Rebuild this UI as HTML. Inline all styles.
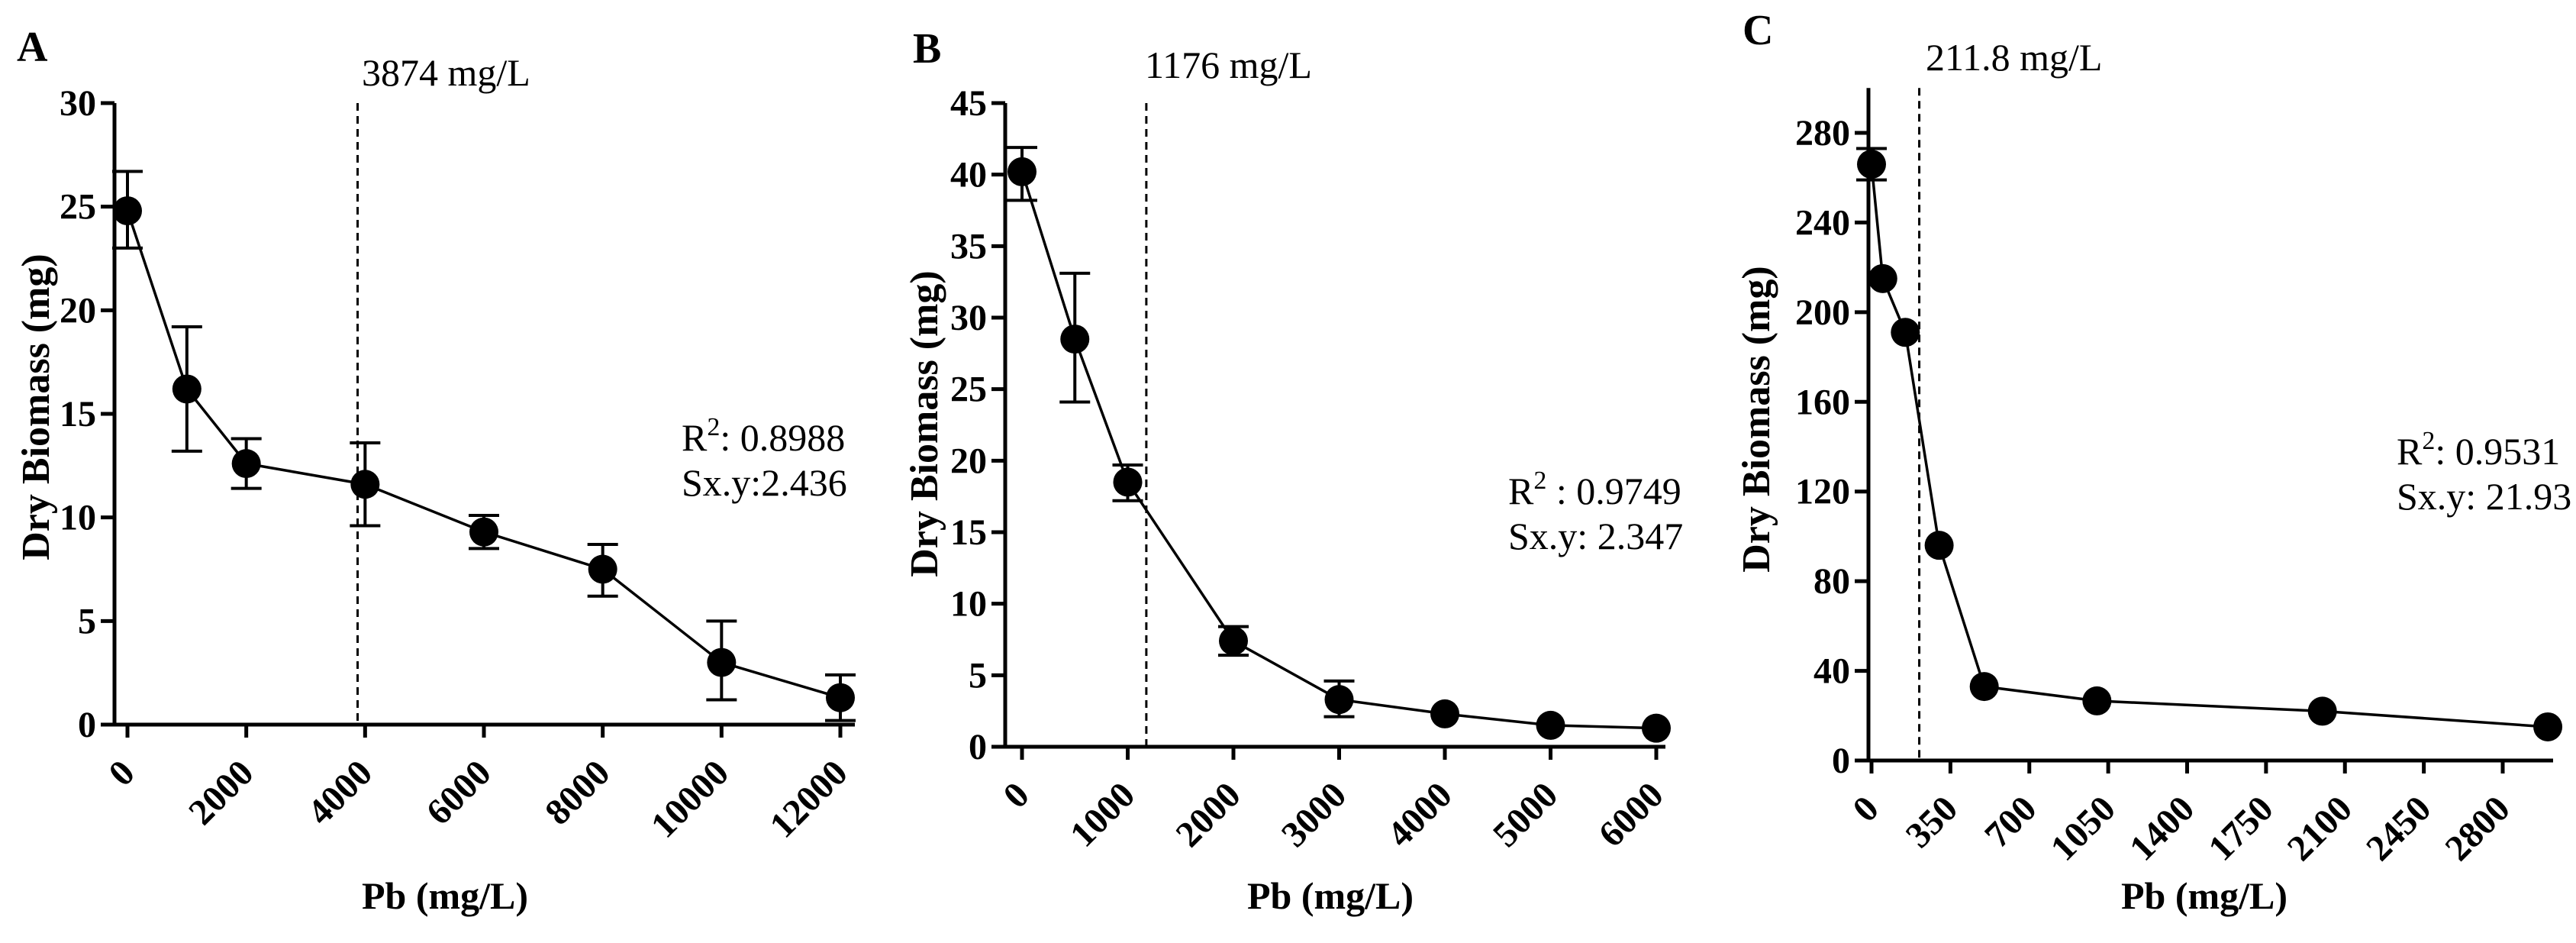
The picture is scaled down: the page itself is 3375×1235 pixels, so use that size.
<!DOCTYPE html>
<html><head><meta charset="utf-8"><style>
html,body{margin:0;padding:0;background:#fff}
svg text{font-family:"Liberation Serif","DejaVu Serif",serif;fill:#000}
</style></head><body>
<svg id="fig" width="3375" height="1230" viewBox="0 0 3375 1230" font-family="Liberation Serif, DejaVu Serif, serif" xmlns="http://www.w3.org/2000/svg"></svg>
<script>
// Panel A data
const aDose = [0,1000,2000,4000,6000,8000,10000,12000];
const aMean = [24.8,16.2,12.6,11.6,9.3,7.5,3.0,1.3];
const aHi   = [26.7,19.2,13.8,13.6,10.1,8.7,5.0,2.4];
const aLo   = [23.0,13.2,11.4,9.6,8.5,6.2,1.2,0.2];
const aXTicks = [0,2000,4000,6000,8000,10000,12000];
const aYTicks = [0,5,10,15,20,25,30];
const aEC50 = 3874;
// Panel B data
const bDose = [0,500,1000,2000,3000,4000,5000,6000];
const bMean = [40.2,28.5,18.5,7.4,3.3,2.3,1.5,1.3];
const bHi   = [41.9,33.1,19.7,8.4,4.6,2.3,1.5,1.3];
const bLo   = [38.2,24.1,17.2,6.4,2.1,2.3,1.5,1.3];
const bXTicks = [0,1000,2000,3000,4000,5000,6000];
const bYTicks = [0,5,10,15,20,25,30,35,40,45];
const bEC50 = 1176;
// Panel C data
const cDose = [0,50,150,300,500,1000,2000,3000];
const cMean = [266,215,191,96,33,26.6,22,15];
const cHi   = [273,215,191,96,33,26.6,22,15];
const cLo   = [259,215,191,96,33,26.6,22,15];
const cXTicks = [0,350,700,1050,1400,1750,2100,2450,2800];
const cYTicks = [0,40,80,120,160,200,240,280];
const cEC50 = 211.8;

const NS='http://www.w3.org/2000/svg';
const svg=document.getElementById('fig');
function mk(tag,attrs,parent,text){const e=document.createElementNS(NS,tag);for(const k in attrs)e.setAttribute(k,attrs[k]);if(text!==undefined)e.textContent=text;(parent||svg).appendChild(e);return e;}

function panel(p){
  const g=mk('g',{});
  
  
  const xs=v=>p.x0+(v-p.xmin)*(p.x1-p.x0)/(p.xmax-p.xmin);
  const ys=v=>p.y0-(v)*(p.y0-p.y1)/(p.ymax);
  const L=mk('text',{x:p.letterX,y:p.letterY,'font-size':56,'font-weight':'bold'},g,p.letter);
  
  
  const ya=mk('line',{x1:p.ax,y1:ys(p.ytop),x2:p.ax,y2:p.y0+2.5,stroke:'#000','stroke-width':5},g);
  
  
  const xa=mk('line',{x1:p.ax-18,y1:p.y0,x2:p.xend,y2:p.y0,stroke:'#000','stroke-width':5},g);
  
  
  p.yTicks.forEach(t=>{
    const y=ys(t);
    if(t!==0){const tk=mk('line',{x1:p.ax-18,y1:y,x2:p.ax,y2:y,stroke:'#000','stroke-width':5},g);
    
    }
    const tl=mk('text',{x:p.ax-24,y:y+16,'font-size':48,'font-weight':'bold','text-anchor':'end'},g,String(t));
    
    
  });
  p.xTicks.forEach(t=>{
    const x=xs(t);
    const tk=mk('line',{x1:x,y1:p.y0,x2:x,y2:p.y0+17,stroke:'#000','stroke-width':5},g);
    
    
    const tl=mk('text',{x:x+12,y:p.y0+66,'font-size':48,'font-weight':'bold','text-anchor':'end',transform:`rotate(-45 ${x+12} ${p.y0+66})`},g,String(t));
    
    
  });
  const yt=mk('text',{x:p.ytX,y:p.ytY,'font-size':52,'font-weight':'bold','text-anchor':'middle',transform:`rotate(-90 ${p.ytX} ${p.ytY})`},g,'Dry Biomass (mg)');
  
  
  const xt=mk('text',{x:p.xtX,y:1190,'font-size':50,'font-weight':'bold','text-anchor':'middle'},g,'Pb (mg/L)');
  
  
  const ex=xs(p.ec50);
  const dl=mk('line',{x1:ex,y1:ys(p.ytop),x2:ex,y2:p.y0,stroke:'#000','stroke-width':3,'stroke-dasharray':'10 7'},g);
  
  
  const et=mk('text',{x:p.ecTX,y:p.ecTY,'font-size':50},g,p.ecLabel);
  
  
  const st=mk('text',{x:p.stX,y:p.stY,'font-size':50},g);
  
  
  mk('tspan',{},st,'R');
  mk('tspan',{dy:-20,'font-size':34},st,'2');
  mk('tspan',{dy:20},st,p.r2);
  const sx=mk('text',{x:p.stX,y:p.stY+59,'font-size':50},g,p.sxy);
  
  
  const pts=p.dose.map((d,i)=>xs(d)+','+ys(p.mean[i])).join(' ');
  const pl=mk('polyline',{points:pts,fill:'none',stroke:'#000','stroke-width':3.5},g);
  
  
  p.dose.forEach((d,i)=>{
    const x=xs(d);
    if(p.hi[i]!==p.lo[i]){
      const eb=mk('path',{d:`M${x-20},${ys(p.hi[i])}H${x+20}M${x},${ys(p.hi[i])}V${ys(p.lo[i])}M${x-20},${ys(p.lo[i])}H${x+20}`,stroke:'#000','stroke-width':4,fill:'none'},g);
      
      
    }
    const c=mk('circle',{cx:x,cy:ys(p.mean[i]),r:19,fill:'#000'},g);
    
    
  });
}

panel({id:'a',letter:'A',letterX:22,letterY:80,ax:150,x0:167,x1:1101,xmin:0,xmax:12000,xend:1120,y0:949,y1:135,ymax:30,ytop:30,
  xTicks:aXTicks,yTicks:aYTicks,dose:aDose,mean:aMean,hi:aHi,lo:aLo,ec50:aEC50,ecLabel:'3874 mg/L',ecTX:474,ecTY:112,
  ytX:64,ytY:533,xtX:583,stX:893,stY:590,r2:': 0.8988',sxy:'Sx.y:2.436'});
panel({id:'b',letter:'B',letterX:1196,letterY:82,ax:1317,x0:1339,x1:2170,xmin:0,xmax:6000,xend:2182,y0:978,y1:135,ymax:45,ytop:45,
  xTicks:bXTicks,yTicks:bYTicks,dose:bDose,mean:bMean,hi:bHi,lo:bLo,ec50:bEC50,ecLabel:'1176 mg/L',ecTX:1500,ecTY:102,
  ytX:1228,ytY:555,xtX:1743,stX:1976,stY:660,r2:' : 0.9749',sxy:'Sx.y: 2.347'});
panel({id:'c',letter:'C',letterX:2283,letterY:58,ax:2448,x0:2452,x1:3279,xmin:0,xmax:2800,xend:3345,y0:996,y1:174,ymax:280,ytop:300,
  xTicks:cXTicks,yTicks:cYTicks,dose:cDose,mean:cMean,hi:cHi,lo:cLo,ec50:cEC50,ecLabel:'211.8 mg/L',ecTX:2523,ecTY:92,
  ytX:2318,ytY:549,xtX:2888,stX:3140,stY:608,r2:': 0.9531',sxy:'Sx.y: 21.93'});
</script>
</body></html>
